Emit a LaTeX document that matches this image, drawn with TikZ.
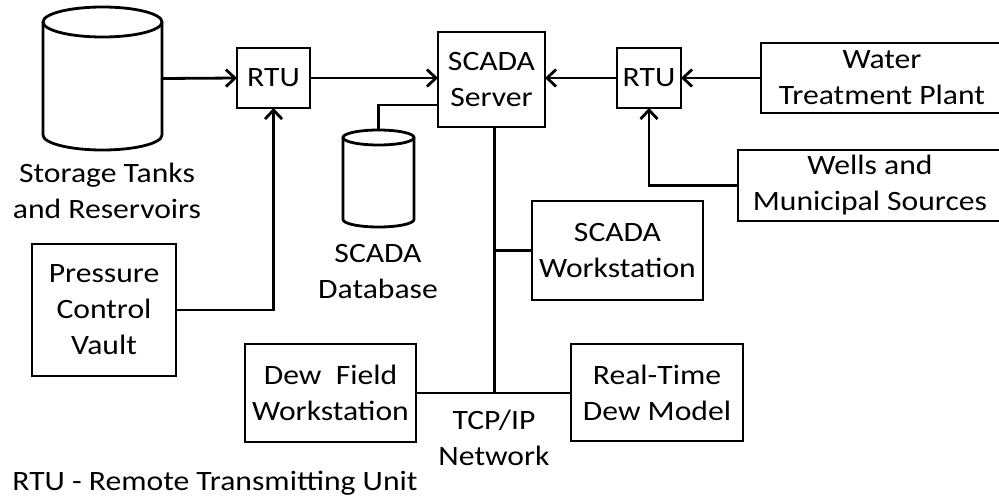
\documentclass[tikz,border=0pt]{standalone}
\usepackage{fontspec}
\setmainfont{Carlito}[FakeStretch=1.13]
\usetikzlibrary{arrows.meta}

\begin{document}
\begin{tikzpicture}[x=1pt,y=-1pt,
    font=\fontsize{28}{36}\selectfont,
    >={Straight Barb[length=9pt,width=17pt]},
    every path/.style={line width=2.8pt},
    box/.style={draw, align=center, inner sep=0pt, outer sep=0pt},
    spot/.style={inner sep=0pt, outer sep=0pt},
    txt/.style={align=center, inner sep=0pt}]
      \useasboundingbox (0,0) rectangle (999,496);
      % storage tank
      \node[spot, minimum width=119pt, minimum height=143pt] (tank) at (102.5,78.5) {};
      \draw (102.5,22) ellipse [x radius=59.5, y radius=15];
      \draw (43,22) -- (43,135) arc [start angle=180, end angle=0, x radius=59.5, y radius=15] -- (162,22);
      \node[txt] (tanklabel) at (107,191) {Storage Tanks\\and Reservoirs};
      \node[box, minimum width=73pt, minimum height=60pt] (rtuA) at (273.5,78) {RTU};
      \node[box, minimum width=144pt, minimum height=132pt] (vault) at (104,310) {Pressure\\Control\\Vault};
      % server and database
      \node[box, minimum width=107pt, minimum height=95pt] (server) at (491.5,79.5) {SCADA\\Server};
      \node[spot, minimum width=71pt, minimum height=97pt] (db) at (378.5,178.5) {};
      \draw (378.5,137.5) ellipse [x radius=35.5, y radius=7.5];
      \draw (343,137.5) -- (343,219.5) arc [start angle=180, end angle=0, x radius=35.5, y radius=7.5] -- (414,137.5);
      \node[txt] (dblabel) at (378,272) {SCADA\\Database};
      % sources
      \node[box, minimum width=64pt, minimum height=60pt] (rtuB) at (649,78) {RTU};
      \node[box, minimum width=242pt, minimum height=70pt] (plant) at (882,78) {Water\\Treatment Plant};
      \node[box, minimum width=264pt, minimum height=71pt] (wells) at (870,185.5) {Wells and\\Municipal Sources};
      % network
      \node[box, minimum width=171pt, minimum height=99pt] (scadaws) at (617.5,250.5) {SCADA\\Workstation};
      \node[box, minimum width=171pt, minimum height=98pt] (dewws) at (330.5,393) {Dew\ \ Field\\Workstation};
      \node[box, minimum width=172pt, minimum height=97pt] (model) at (657,392.5) {Real-Time\\Dew Model};
      \coordinate (hub) at (494.5,393);
      \node[txt] (tcp) at (494,437.5) {TCP/IP\\Network};
      \node[txt, anchor=base west] (legend) at (11,490) {RTU - Remote Transmitting Unit};

      \draw[->] (tank.east) -- (rtuA.west);
      \draw[->] (rtuA.east) -- (rtuA.east -| server.west);
      \draw[->] (rtuB.west) -- (rtuB.west -| server.east);
      \draw[->] (plant.west) -- (plant.west -| rtuB.east);
      \draw[->] (wells.west) -| (rtuB.south);
      \draw[->] (vault.east) -| (rtuA.south);
      \draw (db.north) |- ([yshift=-25.5pt]server.west);
      \draw (server.south -| hub) -- (hub);
      \draw (scadaws.west) -- (scadaws.west -| hub);
      \draw (dewws.east) -- (dewws.east -| model.west);
    \end{tikzpicture}
\end{document}
